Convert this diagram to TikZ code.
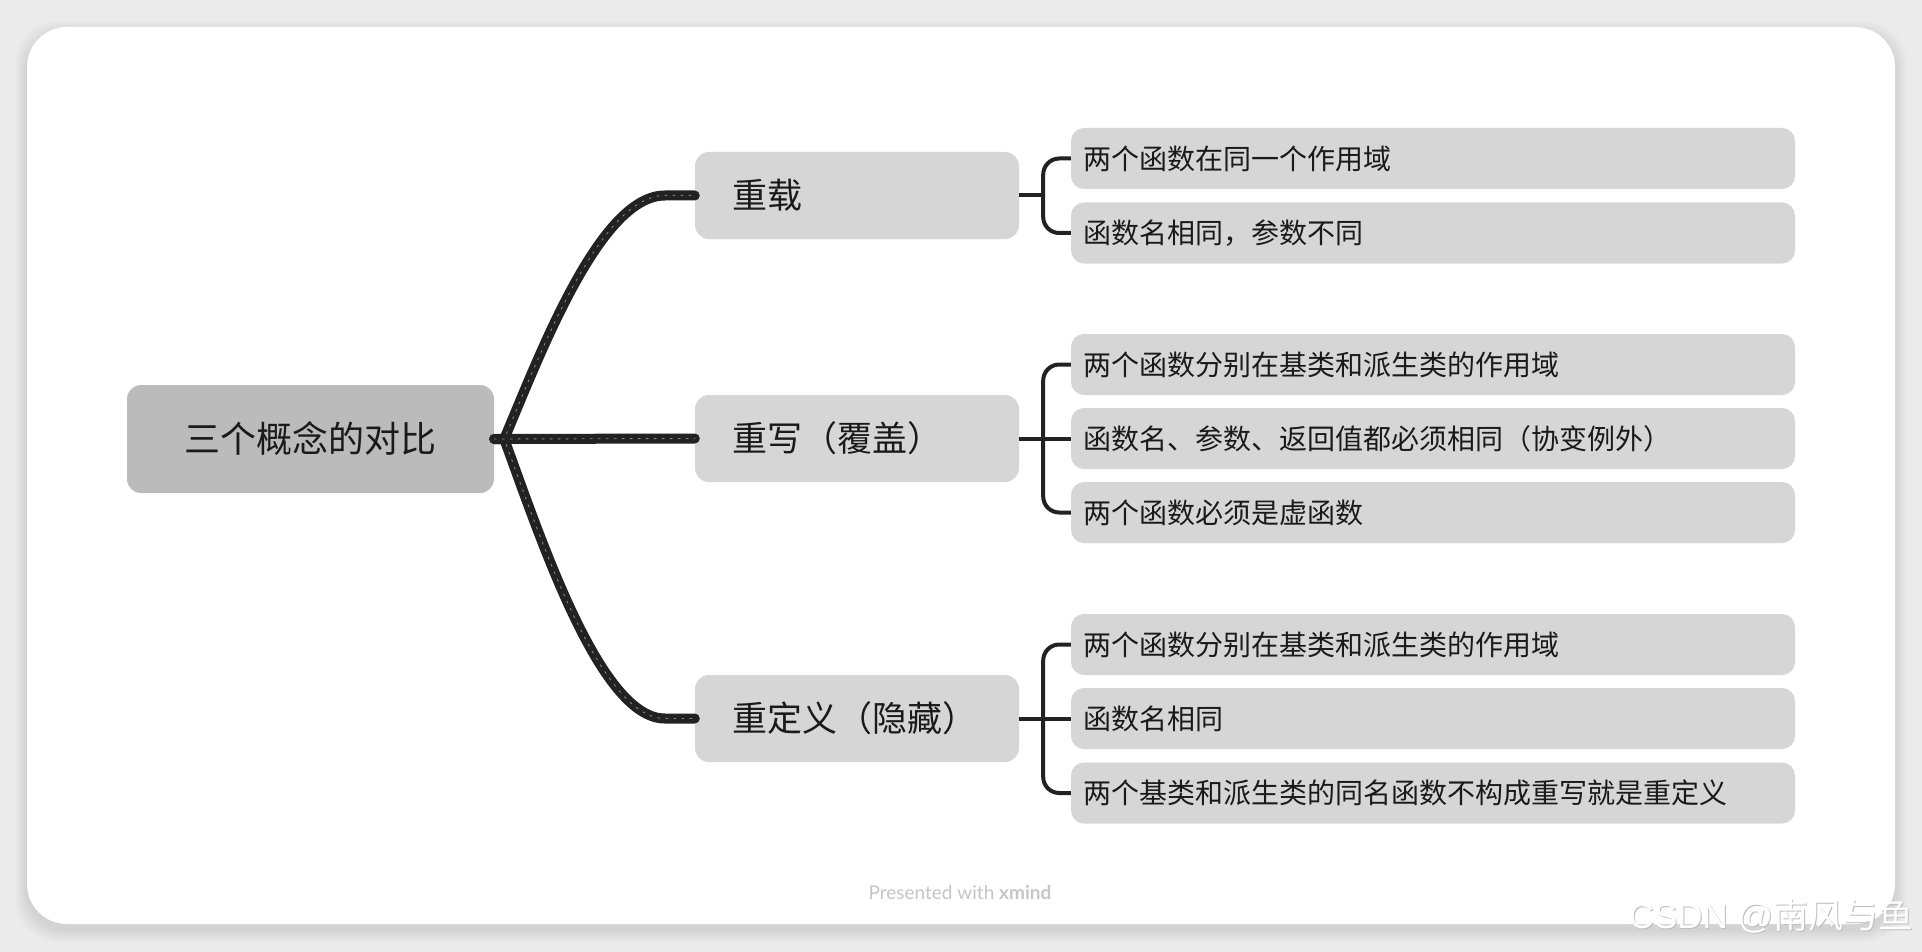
\documentclass[tikz,border=0pt]{standalone}
\usepackage{fontspec}
\setmainfont{Liberation Sans}
\newfontfamily\cjk{Noto Sans CJK SC}
\newfontfamily\footfont{Lato}
\usetikzlibrary{calc}
\definecolor{bgc}{HTML}{EBEBEB}
\definecolor{rootc}{HTML}{BBBBBB}
\definecolor{boxc}{HTML}{D6D6D6}
\definecolor{inkc}{HTML}{222222}
\definecolor{txtc}{HTML}{1A1A1A}
\definecolor{footc}{HTML}{C6C6C6}
\tikzset{
  rootbox/.style={fill=rootc, rounded corners=14pt, minimum width=367pt, minimum height=108pt, inner sep=0pt, font=\cjk\fontsize{36}{40}\selectfont, text=txtc},
  topicbox/.style={fill=boxc, rounded corners=14pt, text width=250pt, inner xsep=37pt, inner ysep=0pt, minimum height=87pt, align=left, font=\cjk\fontsize{35}{40}\selectfont, text=txtc},
  leafbox/.style={fill=boxc, rounded corners=13pt, text width=700pt, inner xsep=12pt, inner ysep=0pt, minimum height=61pt, align=left, font=\cjk\fontsize{28}{32}\selectfont, text=txtc},
  branch/.style={draw=inkc, line width=10pt, line cap=round, postaction={draw=white, line width=0.9pt, dash pattern=on 2pt off 6pt, opacity=0.45}},
  bracket/.style={draw=inkc, line width=4pt},
}
\begin{document}
\begin{tikzpicture}[x=1pt,y=-1pt]
\useasboundingbox (0,0) rectangle (1922,952);
\fill[bgc] (0,0) rectangle (1922,952);
% card shadow
\foreach \i in {1,...,12}
  \fill[black, opacity=0.008, rounded corners=42pt] (27-\i,27-\i+6) rectangle (1895+\i,924+\i+6);
\fill[white, rounded corners=40pt] (27,27) rectangle (1895,924);

% nodes
\node[rootbox] (root) at (310.5,439) {三个概念的对比};
\node[topicbox] (t1) at (857,195.5) {重载};
\node[topicbox] (t2) at (857,438.5) {重写（覆盖）};
\node[topicbox] (t3) at (857,718.5) {重定义（隐藏）};

\node[leafbox] (a1) at (1433,158.5) {两个函数在同一个作用域};
\node[leafbox] (a2) at (1433,233) {函数名相同，参数不同};
\node[leafbox] (a3) at (1433,364.5) {两个函数分别在基类和派生类的作用域};
\node[leafbox] (a4) at (1433,438.5) {函数名、参数、返回值都必须相同（协变例外）};
\node[leafbox] (a5) at (1433,512.5) {两个函数必须是虚函数};
\node[leafbox] (a6) at (1433,644.5) {两个函数分别在基类和派生类的作用域};
\node[leafbox] (a7) at (1433,718.5) {函数名相同};
\node[leafbox] (a8) at (1433,793) {两个基类和派生类的同名函数不构成重写就是重定义};

% branches
\draw[branch] (root.east) -- ($(root.east)+(10,0)$)
  .. controls ($(root.east)+(46,-85)$) and ($(t1.west)+(-95,0)$) .. ($(t1.west)+(-30,0)$) -- (t1.west);
\draw[branch] (root.east) -- (t2.west);
\draw[branch] (root.east) -- ($(root.east)+(10,0)$)
  .. controls ($(root.east)+(46,98)$) and ($(t3.west)+(-95,0)$) .. ($(t3.west)+(-30,0)$) -- (t3.west);

% brackets
\coordinate (b1) at ($(t1.east)+(24,0)$);
\coordinate (b2) at ($(t2.east)+(24,0)$);
\coordinate (b3) at ($(t3.east)+(24,0)$);
\draw[bracket] (t1.east) -- (b1);
\draw[bracket, rounded corners=16pt] (a1.west) -| (b1) |- (a2.west);
\draw[bracket] (t2.east) -- (a4.west);
\draw[bracket, rounded corners=16pt] (a3.west) -| (b2) |- (a5.west);
\draw[bracket] (t3.east) -- (a7.west);
\draw[bracket, rounded corners=16pt] (a6.west) -| (b3) |- (a8.west);

% footer
\node[text=footc, font=\footfont\fontsize{19}{22}\selectfont] (foot) at (960,893) {Presented with \textbf{xmind}};
% watermark
\node[text=gray!50, font=\fontsize{35}{38}\selectfont] (wm0) at (1772,917) {CSDN @{\cjk 南风与鱼}};
\node[text=white, font=\fontsize{35}{38}\selectfont] (wm) at (1771,916) {CSDN @{\cjk 南风与鱼}};
\end{tikzpicture}
\end{document}
